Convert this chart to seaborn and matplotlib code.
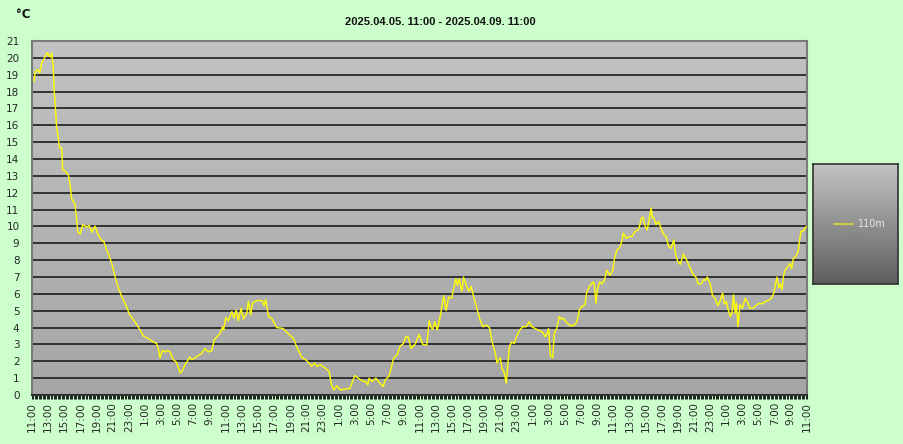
import numpy as np
import pandas as pd
import matplotlib
matplotlib.use("Agg")
import matplotlib.pyplot as plt
from matplotlib.ticker import MultipleLocator
from matplotlib.lines import Line2D
from matplotlib.colors import LinearSegmentedColormap
import seaborn as sns

title = "2025.04.05. 11:00 - 2025.04.09. 11:00"
unit_label = "°C"
series_name = "110m"

# hours since 2025.04.05 11:00
hours = [0.25, 0.4, 0.75, 0.95, 1.2, 1.6, 1.9, 2.15, 2.3, 2.44, 2.64, 2.73, 2.85, 2.97, 3.05, 3.25, 3.38, 3.68, 3.8, 4.2,
         4.5, 4.7, 4.9, 5.3, 5.5, 5.66, 5.95, 6.28, 6.7, 7.1, 7.4, 7.8, 8.2, 8.6, 8.9, 9.25, 9.67, 10.0, 10.3, 10.7,
         11.1, 11.7, 12.1, 12.8, 13.4, 13.8, 14.4, 15.0, 15.45, 15.65, 15.86, 16.15, 16.5, 16.8, 17.1, 17.5, 17.9, 18.35, 18.7, 19.0,
         19.25, 19.5, 19.8, 20.2, 20.6, 21.0, 21.4, 21.85, 22.3, 22.55, 22.9, 23.3, 23.6, 23.75, 24.0, 24.3, 24.75, 25.05, 25.3, 25.55,
         25.9, 26.2, 26.6, 26.8, 27.1, 27.3, 27.85, 28.5, 28.75, 28.95, 29.3, 29.7, 30.3, 31.1, 31.6, 32.4, 32.8, 33.4, 34.0, 34.65,
         35.0, 35.3, 35.7, 36.3, 36.8, 37.1, 37.4, 37.75, 38.2, 38.8, 39.4, 39.7, 40.0, 40.4, 40.85, 41.3, 41.6, 41.75, 42.1, 42.6,
         43.0, 43.5, 43.75, 44.2, 44.45, 44.8, 45.2, 45.6, 46.0, 46.3, 46.6, 46.95, 47.5, 47.95, 48.4, 48.9, 49.2, 49.45, 49.65, 49.9,
         50.2, 50.6, 51.0, 51.3, 51.6, 52.0, 52.2, 52.5, 52.7, 52.9, 53.25, 53.45, 53.85, 54.1, 54.4, 54.7, 55.1, 55.5, 55.85, 56.35,
         56.7, 56.95, 57.4, 57.6, 58.0, 58.2, 58.5, 58.75, 58.95, 59.15, 59.45, 59.75, 60.0, 60.4, 60.8, 61.2, 61.6, 61.9, 62.3, 62.7,
         63.2, 63.6, 63.8, 64.0, 64.2, 64.5, 64.7, 65.0, 65.3, 65.6, 65.8, 66.3, 66.7, 67.2, 67.5, 67.8, 68.1, 68.5, 68.7, 69.05,
         69.5, 69.65, 69.85, 70.05, 70.3, 70.6, 70.9, 71.2, 71.6, 71.95, 72.15, 72.45, 72.8, 73.05, 73.25, 73.6, 74.0, 74.3, 74.7, 75.1,
         75.3, 75.5, 75.7, 75.95, 76.2, 76.45, 76.7, 76.85, 77.0, 77.3, 77.6, 77.85, 78.2, 78.55, 78.85, 79.15, 79.5, 79.7, 80.0, 80.3,
         80.7, 81.1, 81.5, 81.95, 82.25, 82.5, 82.9, 83.2, 83.45, 83.65, 84.0, 84.3, 84.6, 84.95, 85.25, 85.55, 85.75, 86.0, 86.3, 86.5,
         86.7, 86.9, 87.1, 87.25, 87.45, 87.7, 88.0, 88.35, 88.6, 88.9, 89.3, 89.8, 90.1, 90.5, 90.8, 91.2, 91.6, 91.9, 92.1, 92.3,
         92.5, 92.7, 92.9, 93.1, 93.3, 93.6, 93.9, 94.1, 94.3, 94.6, 94.9, 95.05, 95.25, 95.5, 95.7, 95.9]
temps = [18.6, 19.2, 19.3, 19.1, 19.7, 20.05, 20.3, 20.1, 20.05, 20.3, 19.4, 18.1, 17.4, 16.5, 15.9, 15.3, 14.7, 14.65, 13.35, 13.25,
         13.05, 12.55, 11.65, 11.35, 10.6, 9.7, 9.55, 10.1, 9.98, 10.05, 9.65, 10.02, 9.5, 9.2, 9.1, 8.6, 8.1, 7.6, 7.0, 6.35,
         5.85, 5.25, 4.75, 4.3, 3.85, 3.5, 3.35, 3.15, 3.05, 2.75, 2.2, 2.65, 2.55, 2.65, 2.55, 2.1, 1.95, 1.3, 1.5, 1.85,
         2.0, 2.25, 2.1, 2.2, 2.35, 2.45, 2.75, 2.55, 2.65, 3.25, 3.45, 3.65, 4.05, 3.85, 4.6, 4.4, 4.95, 4.55, 5.05, 4.4,
         5.15, 4.5, 4.85, 5.55, 4.75, 5.45, 5.6, 5.6, 5.3, 5.65, 4.65, 4.55, 4.0, 3.95, 3.7, 3.35, 2.85, 2.25, 2.05, 1.7,
         1.9, 1.7, 1.8, 1.6, 1.4, 0.6, 0.3, 0.55, 0.3, 0.35, 0.4, 0.8, 1.15, 1.0, 0.85, 0.8, 0.6, 1.0, 0.8, 1.0,
         0.75, 0.5, 0.9, 1.1, 1.5, 2.2, 2.35, 2.9, 3.05, 3.45, 3.45, 2.75, 3.05, 3.6, 3.0, 2.95, 4.4, 4.0, 3.9, 4.35,
         3.85, 4.75, 5.9, 5.0, 5.8, 5.75, 6.25, 6.9, 6.5, 6.9, 6.15, 7.0, 6.45, 6.15, 6.45, 5.85, 5.15, 4.45, 4.05, 4.15,
         3.95, 3.25, 2.45, 1.9, 2.2, 1.6, 1.3, 0.7, 1.9, 2.9, 3.15, 3.05, 3.45, 3.85, 4.05, 4.05, 4.35, 4.05, 3.95, 3.85,
         3.75, 3.45, 3.65, 3.95, 2.35, 2.2, 3.65, 3.95, 4.65, 4.5, 4.55, 4.25, 4.1, 4.15, 4.35, 5.05, 5.25, 5.35, 6.05, 6.45,
         6.7, 6.6, 5.45, 6.25, 6.7, 6.6, 6.8, 7.4, 7.1, 7.4, 8.1, 8.6, 8.75, 9.1, 9.6, 9.3, 9.4, 9.4, 9.7, 9.8,
         10.1, 10.5, 10.55, 10.0, 9.8, 10.4, 11.1, 10.5, 10.55, 10.1, 10.3, 10.0, 9.55, 9.4, 8.8, 8.7, 9.2, 8.4, 7.9, 7.75,
         8.35, 8.0, 7.55, 7.1, 7.0, 6.6, 6.6, 6.85, 6.8, 7.0, 6.6, 5.9, 5.75, 5.3, 5.6, 6.05, 5.4, 5.55, 4.95, 4.65,
         4.85, 5.95, 4.85, 5.45, 4.05, 5.35, 5.15, 5.75, 5.55, 5.15, 5.15, 5.35, 5.45, 5.4, 5.55, 5.6, 5.75, 6.05, 6.6, 7.0,
         6.35, 6.6, 6.25, 7.1, 7.4, 7.6, 7.8, 7.5, 8.1, 8.2, 8.5, 9.1, 9.7, 9.7, 9.85, 10.0]

tick_hours = list(range(0, 97, 2))
tick_labels = ["11:00", "13:00", "15:00", "17:00", "19:00", "21:00", "23:00", "1:00", "3:00", "5:00", "7:00", "9:00",
               "11:00", "13:00", "15:00", "17:00", "19:00", "21:00", "23:00", "1:00", "3:00", "5:00", "7:00", "9:00",
               "11:00", "13:00", "15:00", "17:00", "19:00", "21:00", "23:00", "1:00", "3:00", "5:00", "7:00", "9:00",
               "11:00", "13:00", "15:00", "17:00", "19:00", "21:00", "23:00", "1:00", "3:00", "5:00", "7:00", "9:00",
               "11:00"]
y_ticks = list(range(0, 22))

df = pd.DataFrame({"hour": hours, "temp": temps})

sns.set_style("white")
plt.rcParams["font.family"] = ["DejaVu Sans"]

W, H = 904, 444
fig = plt.figure(figsize=(W / 100, H / 100), dpi=100)
fig.patch.set_facecolor("#CCFFCC")

ax = fig.add_axes([32 / W, (H - 395) / H, (807 - 32) / W, (395 - 41) / H])
ax.set_facecolor("#B8B8B8")

# gradient plot background
grad = np.linspace(0, 1, 256).reshape(-1, 1)
cm_plot = LinearSegmentedColormap.from_list("pg", ["#A6A6A6", "#C2C2C2"])
ax.imshow(grad, extent=[0, 1, 0, 1], transform=ax.transAxes, aspect="auto",
          cmap=cm_plot, origin="lower", zorder=0)

for v in y_ticks[1:-1]:
    ax.axhline(v, color="#1c1c1c", lw=1.2, zorder=1)

sns.lineplot(data=df, x="hour", y="temp", color="#FFFF00", lw=1.0, ax=ax, zorder=3)

ax.set_xlim(0, 96)
ax.set_ylim(0, 21)
ax.set_xticks(tick_hours)
ax.set_xticklabels(tick_labels, rotation=90, fontsize=7.5)
ax.xaxis.set_minor_locator(MultipleLocator(1 / 6))
ax.set_yticks(y_ticks)
ax.set_yticklabels([str(v) for v in y_ticks], fontsize=7.5)
ax.tick_params(axis="x", which="both", direction="out", length=3, width=0.7, color="#1c1c1c", pad=2, bottom=True)
ax.tick_params(axis="y", length=0, pad=9)
ax.set_xlabel("")
ax.set_ylabel("")
for s in ax.spines.values():
    s.set_color("#7a7a7a")
    s.set_linewidth(1.5)
ax.spines["bottom"].set_color("#303030")

fig.text(440 / W, 1 - 22 / H, title, ha="center", va="center", fontsize=8, fontweight="bold",
         color="#111111", family=["Liberation Sans", "DejaVu Sans"])
fig.text(16 / W, 1 - 15 / H, unit_label, ha="left", va="center", fontsize=8.5, fontweight="bold", color="#111111")

# legend box
lax = fig.add_axes([813 / W, (H - 284) / H, (898 - 813) / W, (284 - 164) / H])
cm_leg = LinearSegmentedColormap.from_list("lg", ["#5e5e5e", "#c4c4c4"])
lax.imshow(grad, extent=[0, 1, 0, 1], aspect="auto", cmap=cm_leg, origin="lower", zorder=0)
lax.set_xlim(0, 1)
lax.set_ylim(0, 1)
lax.set_xticks([])
lax.set_yticks([])
for s in lax.spines.values():
    s.set_color("#303030")
    s.set_linewidth(1.2)
lax.add_line(Line2D([0.25, 0.47], [0.5, 0.5], color="#CCCC44", lw=1.5))
lax.text(0.53, 0.5, series_name, ha="left", va="center", fontsize=7, color="#E6E6E6")

fig.savefig("out.png", dpi=100, facecolor=fig.get_facecolor())
